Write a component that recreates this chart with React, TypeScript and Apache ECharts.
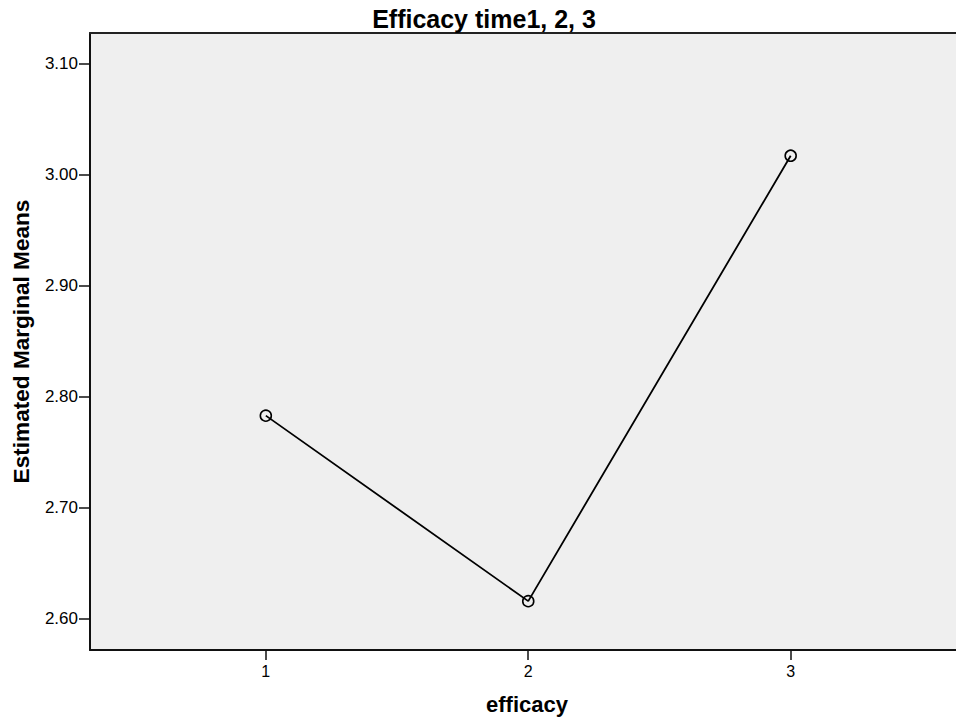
import React, { useEffect, useRef } from "react";
import * as echarts from "echarts";

const chartTitle = "Efficacy time1, 2, 3";
const xAxisName = "efficacy";
const yAxisName = "Estimated Marginal Means";
const xValues = [1, 2, 3];
const means = [2.783, 2.616, 3.017];
const xTicks = [1, 2, 3];
const yTicks = [2.6, 2.7, 2.8, 2.9, 3.0, 3.1];

const FONT = "'Liberation Sans', Arial, sans-serif";
const X_MIN = 0.33;
const X_MAX = 3.63;
const Y_MIN = 2.572;
const Y_MAX = 3.1275;

export default function App() {
  const ref = useRef<HTMLDivElement>(null);
  useEffect(() => {
    if (!ref.current) return;
    const chart = echarts.init(ref.current, undefined, { renderer: "svg" });
    chart.setOption({
      animation: false,
      backgroundColor: "#ffffff",
      title: {
        text: chartTitle,
        left: 479,
        textAlign: "center",
        top: 1,
        textStyle: { fontFamily: FONT, fontSize: 25, fontWeight: "bold", color: "#000", lineHeight: 25 },
      },
      grid: {
        left: 90,
        top: 33,
        right: 0,
        bottom: 69,
        show: true,
        backgroundColor: "#efefef",
        borderWidth: 0,
        borderColor: "transparent",
        outerBoundsMode: "none",
        containLabel: false,
      },
      xAxis: [
        {
          type: "value",
          min: X_MIN,
          max: X_MAX,
          name: xAxisName,
          nameLocation: "middle",
          nameGap: 43,
          nameTextStyle: { fontFamily: FONT, fontSize: 22, fontWeight: "bold", color: "#000", lineHeight: 22, padding: [0, 0, 0, 8] },
          axisLine: { show: true, lineStyle: { color: "#111", width: 2 } },
          axisTick: { show: true, customValues: xTicks, length: 10, lineStyle: { color: "#111", width: 1.5 } },
          axisLabel: {
            customValues: xTicks,
            margin: 13,
            fontFamily: FONT,
            fontSize: 16,
            color: "#000",
            formatter: (v: number) => String(v),
          },
          splitLine: { show: false },
        },
        {
          type: "value",
          position: "top",
          min: X_MIN,
          max: X_MAX,
          axisLine: { show: true, onZero: false, lineStyle: { color: "#222", width: 2 } },
          axisTick: { show: false },
          axisLabel: { show: false },
          splitLine: { show: false },
        },
      ],
      yAxis: {
        type: "value",
        min: Y_MIN,
        max: Y_MAX,
        name: yAxisName,
        nameLocation: "middle",
        nameRotate: 90,
        nameGap: 58,
        nameTextStyle: { fontFamily: FONT, fontSize: 22.6, fontWeight: "bold", color: "#000", lineHeight: 22 },
        axisLine: { show: true, lineStyle: { color: "#111", width: 2 } },
        axisTick: { show: true, customValues: yTicks, length: 11, lineStyle: { color: "#111", width: 1.5 } },
        axisLabel: {
          customValues: yTicks,
          margin: 12,
          fontFamily: FONT,
          fontSize: 17,
          color: "#000",
          padding: [6, 0, 0, 0],
          formatter: (v: number) => v.toFixed(2),
        },
        splitLine: { show: false },
      },
      series: [
        {
          type: "line",
          xAxisIndex: 0,
          data: xValues.map((x, i) => [x, means[i]]),
          symbol: "circle",
          symbolSize: 11,
          showSymbol: true,
          lineStyle: { color: "#000", width: 1.8 },
          itemStyle: { color: "transparent", borderColor: "#000", borderWidth: 1.6 },
          z: 3,
        },
      ],
    });
    return () => chart.dispose();
  }, []);
  return (
    <div
      ref={ref}
      style={{ position: "fixed", left: 0, top: 0, width: 956, height: 719, background: "#fff" }}
    />
  );
}
